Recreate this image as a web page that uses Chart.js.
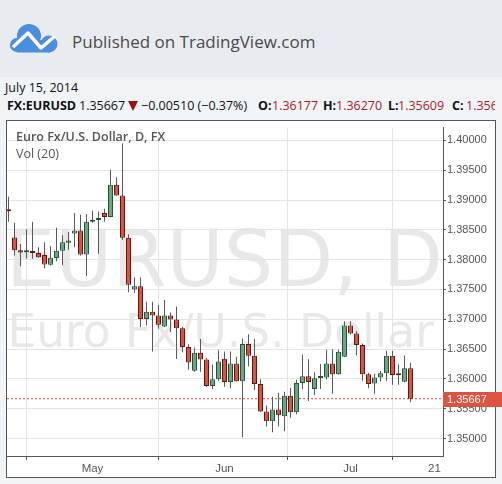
<!DOCTYPE html>
<html>
<head>
<meta charset="utf-8">
<script src="https://cdn.jsdelivr.net/npm/chart.js@4.4.1/dist/chart.umd.min.js"></script>
<style>
  body { margin: 0; width: 502px; height: 484px; overflow: hidden; position: relative; background: #f1f4f7; font-family: "Open Sans", sans-serif; }
  #head { position: absolute; left: 0; top: 0; width: 502px; height: 77px; background: #e8ecf1; }
  #pub { position: absolute; left: 72px; top: 30px; font-size: 17px; color: #4a4a4a; line-height: 24px; white-space: nowrap; }
  #date { position: absolute; left: 5px; top: 79px; font-size: 12.5px; color: #111; line-height: 18px; }
  #quote { position: absolute; left: 0; top: 97px; width: 495px; height: 18px; overflow: hidden; font-size: 12.5px; line-height: 18px; color: #111; white-space: nowrap; }
  #quote span { position: absolute; top: 0; }
  #quote .b { font-weight: 700; }
  #quote .r { color: #b0201b; }
  #tri { top: 4px !important; width: 0; height: 0; border-left: 5px solid transparent; border-right: 5px solid transparent; border-top: 10px solid #9b1010; }
  #box { position: absolute; left: 6px; top: 120px; width: 496px; height: 358px; }
</style>
</head>
<body>
<div id="head">
  <svg width="70" height="77" style="position:absolute;left:0;top:0">
    <g fill="#4b8ee0">
      <circle cx="29" cy="36" r="12"/>
      <circle cx="17" cy="45" r="7"/>
      <circle cx="49" cy="44" r="8.5"/>
      <rect x="17" y="40" width="33" height="12.5"/>
    </g>
    <polyline points="13,47 28,33 41,48 55,36" fill="none" stroke="#fff" stroke-width="3.5" stroke-linejoin="round"/>
  </svg>
  <div id="pub">Published on TradingView.com</div>
</div>
<div id="date">July 15, 2014</div>
<div id="quote">
  <span class="b" style="left:7px">FX:EURUSD</span>
  <span style="left:79px">1.35667</span>
  <span id="tri" style="left:128px"></span>
  <span style="left:141px">−0.00510 (−0.37%)</span>
  <span class="b" style="left:258px">O:</span><span class="r" style="left:272px">1.36177</span>
  <span class="b" style="left:323px">H:</span><span class="r" style="left:336px">1.36270</span>
  <span class="b" style="left:388px">L:</span><span class="r" style="left:398px">1.35609</span>
  <span class="b" style="left:452px">C:</span><span class="r" style="left:466px">1.35667</span>
</div>
<div id="box"><canvas id="chart" width="496" height="358"></canvas></div>

<script>
// trading-day index of the first candle (May 1 = 0)
const firstDay = -14;

const opens = [1.38836, 1.38372, 1.38159, 1.38126, 1.38131, 1.38110, 1.38077, 1.37913, 1.38028, 1.38148,
  1.38284, 1.38438, 1.38487, 1.38087, 1.38634, 1.38667, 1.38782, 1.38716, 1.39257, 1.39077,
  1.38366, 1.37497, 1.37552, 1.37005, 1.37126, 1.37061, 1.36880, 1.37061, 1.36995, 1.36848,
  1.36536, 1.36136, 1.36438, 1.36323, 1.35880, 1.35995, 1.36339, 1.35946, 1.36257, 1.35962,
  1.36585, 1.36389, 1.35913, 1.35454, 1.35290, 1.35487, 1.35372, 1.35716, 1.35438, 1.35930,
  1.36044, 1.35831, 1.36016, 1.36021, 1.36257, 1.36077, 1.36372, 1.36897, 1.36759, 1.36569,
  1.36077, 1.35923, 1.36021, 1.36093, 1.36389, 1.36070, 1.35951, 1.36177];
const highs = [1.39054, 1.38618, 1.38262, 1.38508, 1.38634, 1.38208, 1.38290, 1.38225, 1.38536, 1.38410,
  1.38464, 1.38782, 1.38754, 1.38766, 1.38820, 1.38808, 1.38852, 1.39508, 1.39382, 1.39950,
  1.38426, 1.37705, 1.37705, 1.37295, 1.37295, 1.37241, 1.37323, 1.37115, 1.37213, 1.36869,
  1.36579, 1.36525, 1.36667, 1.36352, 1.36241, 1.36480, 1.36459, 1.36459, 1.36372, 1.36677,
  1.36749, 1.36667, 1.35995, 1.35552, 1.35700, 1.35766, 1.35782, 1.35848, 1.35984, 1.36405,
  1.36328, 1.36110, 1.36251, 1.36487, 1.36497, 1.36487, 1.36967, 1.36967, 1.36798, 1.36595,
  1.36103, 1.36087, 1.36131, 1.36470, 1.36470, 1.36241, 1.36393, 1.36270];
const lows = [1.38634, 1.38070, 1.37890, 1.38016, 1.38016, 1.38030, 1.37852, 1.37902, 1.37972, 1.37907,
  1.38164, 1.38208, 1.38070, 1.37726, 1.38618, 1.38098, 1.38634, 1.38710, 1.39070, 1.38328,
  1.37454, 1.37443, 1.36869, 1.36897, 1.36459, 1.36841, 1.36869, 1.36787, 1.36333, 1.36448,
  1.36152, 1.36120, 1.36120, 1.35869, 1.35831, 1.35967, 1.35869, 1.35841, 1.35955, 1.35021,
  1.36208, 1.35815, 1.35443, 1.35202, 1.35103, 1.35202, 1.35120, 1.35349, 1.35405, 1.35831,
  1.35628, 1.35726, 1.35831, 1.35989, 1.35749, 1.36070, 1.36365, 1.36743, 1.36393, 1.35967,
  1.35841, 1.35749, 1.35956, 1.35967, 1.35902, 1.35902, 1.35945, 1.35609];
const closes = [1.38811, 1.38159, 1.38120, 1.38134, 1.38110, 1.38038, 1.37918, 1.38033, 1.38148, 1.38290,
  1.38323, 1.38487, 1.38087, 1.38634, 1.38667, 1.38700, 1.38716, 1.39257, 1.39077, 1.38366,
  1.37579, 1.37552, 1.37005, 1.37126, 1.37061, 1.36907, 1.37061, 1.36995, 1.36848, 1.36536,
  1.36274, 1.36438, 1.36323, 1.35880, 1.35995, 1.36290, 1.35946, 1.36257, 1.35962, 1.36585,
  1.36389, 1.35913, 1.35454, 1.35290, 1.35487, 1.35389, 1.35716, 1.35438, 1.35930, 1.36044,
  1.35946, 1.36011, 1.36025, 1.36257, 1.36077, 1.36454, 1.36897, 1.36759, 1.36569, 1.36077,
  1.35913, 1.36021, 1.36093, 1.36389, 1.36066, 1.36061, 1.36177, 1.35667];

// time axis: trading-day index of each label
const tickDays = [0, 22, 43, 57];
const tickNames = ['May', 'Jun', 'Jul', '21'];
const priceTicks = [1.35, 1.355, 1.36, 1.365, 1.37, 1.375, 1.38, 1.385, 1.39, 1.395, 1.40];
const lastPrice = 1.35667;

const xMin = -14.25, xMax = 58.4167;
const yMin = 1.34706, yMax = 1.40215;

const upFill = '#6ba583', upLine = '#225437';
const downFill = '#d75442', downLine = '#5e1a12';
const axisColor = '#555';
const gridColor = '#e4e4e4';

const days = opens.map((o, k) => firstDay + k);
const isUp = closes.map((c, k) => c >= opens[k]);

// white panel, frame, watermark and legend text
const panel = {
  id: 'panel',
  beforeDraw(chart) {
    const c = chart.ctx, a = chart.chartArea;
    c.save();
    c.fillStyle = '#fff';
    c.fillRect(0, 0, 490, 358);
    c.strokeStyle = axisColor;
    c.lineWidth = 1;
    c.strokeRect(0.5, 0.5, 489, 357);
    c.beginPath();
    c.rect(a.left, a.top, a.right - a.left, a.bottom - a.top);
    c.clip();
    c.fillStyle = 'rgba(0,0,0,0.09)';
    c.font = '78px "DejaVu Sans"';
    c.fillText('EURUSD, D', 0, 166);
    c.font = '45.5px "DejaVu Sans"';
    c.fillText('Euro Fx/U.S. Dollar', 1.5, 227);
    c.restore();
  },
  beforeDatasetsDraw(chart) {
    const c = chart.ctx;
    c.save();
    c.fillStyle = '#555';
    c.textBaseline = 'middle';
    c.font = '600 12.5px "Open Sans"';
    c.fillText('Euro Fx/U.S. Dollar, D, FX', 10, 17.5);
    c.font = '12.5px "Open Sans"';
    c.fillText('Vol (20)', 10, 34.5);
    c.restore();
  },
  afterDraw(chart) {
    const c = chart.ctx, a = chart.chartArea;
    const y = chart.scales.y.getPixelForValue(lastPrice);
    c.save();
    c.fillStyle = '#dc5440';
    c.fillRect(a.right, Math.round(y) - 7, 496 - a.right, 15);
    c.fillStyle = '#fff';
    c.font = '11px "Liberation Sans"';
    c.textBaseline = 'middle';
    c.fillText(lastPrice.toFixed(5), a.right + 4, Math.round(y) + 0.5);
    c.restore();
  }
};

new Chart(document.getElementById('chart'), {
  type: 'bar',
  data: {
    datasets: [
      {
        label: 'body',
        data: days.map((d, k) => ({ x: d, y: [opens[k], closes[k]] })),
        backgroundColor: isUp.map(u => u ? upFill : downFill),
        borderColor: isUp.map(u => u ? upLine : downLine),
        borderWidth: 1,
        borderSkipped: false,
        barThickness: 5,
        minBarLength: 2,
        inflateAmount: 0,
        grouped: false,
        order: 0
      },
      {
        label: 'wick',
        data: days.map((d, k) => ({ x: d, y: [lows[k], highs[k]] })),
        backgroundColor: '#5a5a5a',
        borderWidth: 0,
        barThickness: 1,
        inflateAmount: 0,
        grouped: false,
        order: 1
      },
      {
        type: 'line',
        label: 'last',
        data: [{ x: xMin, y: lastPrice }, { x: xMax, y: lastPrice }],
        borderColor: '#e3402d',
        borderWidth: 1,
        borderDash: [2, 2],
        pointRadius: 0,
        order: 2
      }
    ]
  },
  options: {
    responsive: false,
    animation: false,
    events: [],
    layout: { padding: { left: 1, top: 1, right: 0, bottom: 0 } },
    plugins: { legend: { display: false }, tooltip: { enabled: false } },
    scales: {
      x: {
        type: 'linear',
        min: xMin,
        max: xMax,
        offset: false,
        afterBuildTicks: s => { s.ticks = tickDays.map(v => ({ value: v })); },
        afterFit: s => { s.height = 22; },
        ticks: {
          callback: v => tickNames[tickDays.indexOf(v)],
          color: '#555',
          font: { family: 'Liberation Sans', size: 11.5 },
          padding: 2,
          maxRotation: 0,
          autoSkip: false
        },
        grid: { color: gridColor, tickColor: axisColor, tickLength: 4 },
        border: { color: axisColor }
      },
      y: {
        position: 'right',
        min: yMin,
        max: yMax,
        afterBuildTicks: s => { s.ticks = priceTicks.map(v => ({ value: v })); },
        afterFit: s => { s.width = 59; },
        ticks: {
          callback: v => v.toFixed(5),
          color: '#555',
          font: { family: 'Liberation Sans', size: 11 },
          padding: 1
        },
        grid: { color: gridColor, tickColor: axisColor, tickLength: 3 },
        border: { color: axisColor }
      }
    }
  },
  plugins: [panel]
});
</script>
</body>
</html>
